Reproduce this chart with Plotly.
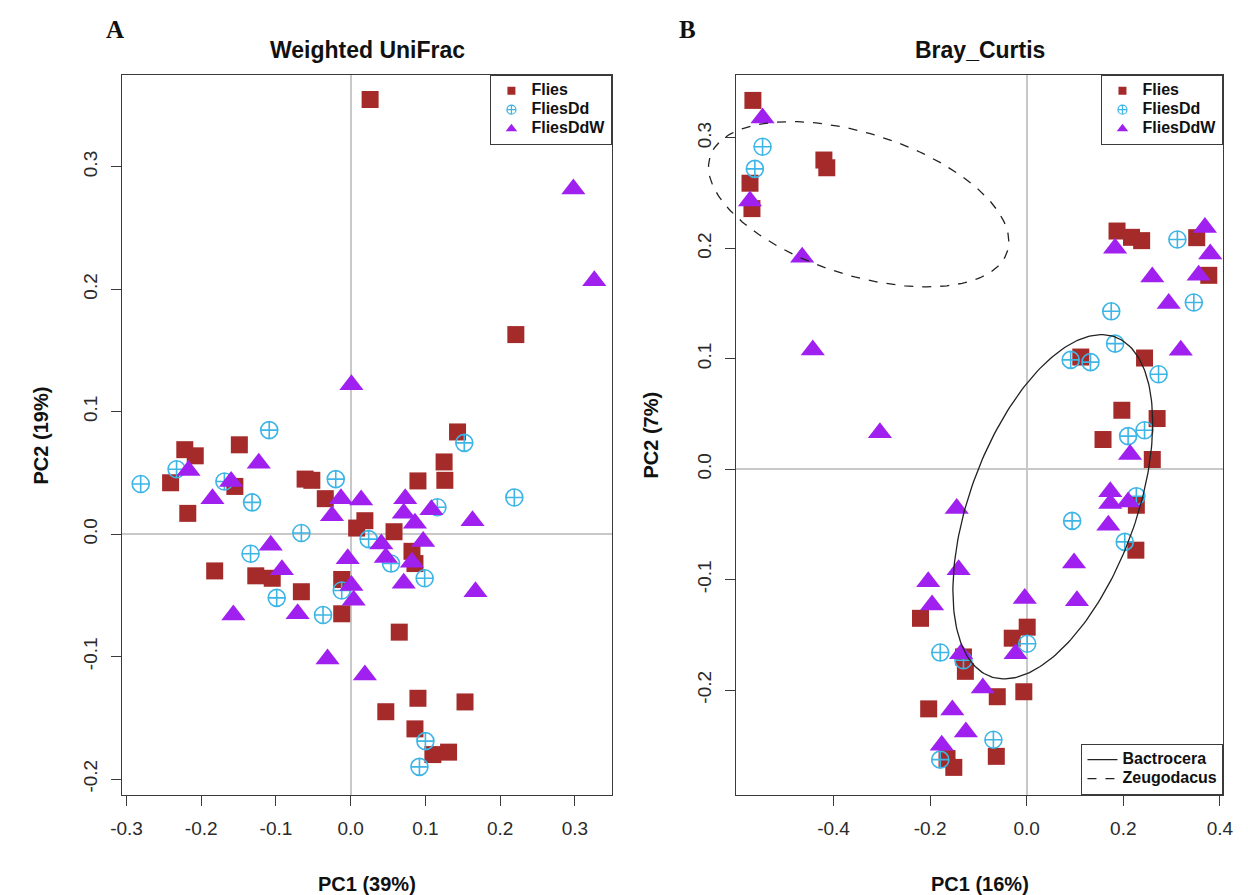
import numpy as np
import plotly.graph_objects as go

W, H = 1248, 895

# ---- Panel A: Weighted UniFrac PCoA scores ----
wu_flies_pc1 = [0.026, 0.221, 0.143, 0.125, 0.126, 0.090, -0.222, -0.208, -0.149, -0.241,
                -0.155, -0.218, -0.061, -0.052, -0.034, 0.008, 0.019, 0.058, 0.082, 0.086,
                -0.182, -0.127, -0.105, -0.066, -0.012, -0.012, 0.065, 0.047, 0.090, 0.153,
                0.086, 0.110, 0.131]
wu_flies_pc2 = [0.355, 0.163, 0.0835, 0.059, 0.044, 0.0435, 0.069, 0.064, 0.073, 0.042,
                0.039, 0.017, 0.045, 0.044, 0.029, 0.005, 0.011, 0.002, -0.014, -0.024,
                -0.030, -0.034, -0.036, -0.047, -0.037, -0.065, -0.080, -0.145, -0.134, -0.137,
                -0.159, -0.180, -0.178]

wu_dd_pc1 = [-0.109, -0.233, -0.281, -0.169, -0.132, -0.020, -0.066, -0.134, -0.099, -0.037,
             -0.012, 0.024, 0.054, 0.099, 0.152, 0.219, 0.116, 0.100, 0.092]
wu_dd_pc2 = [0.085, 0.053, 0.041, 0.043, 0.026, 0.045, 0.001, -0.016, -0.052, -0.066,
             -0.046, -0.004, -0.024, -0.036, 0.0746, 0.030, 0.022, -0.169, -0.190]

wu_ddw_pc1 = [0.001, 0.298, 0.326, -0.123, -0.217, -0.160, -0.185, -0.013, 0.014, -0.025,
              -0.107, -0.092, -0.004, 0.001, 0.004, -0.157, -0.071, -0.031, 0.019, 0.073,
              0.071, 0.108, 0.086, 0.163, 0.041, 0.097, 0.047, 0.082, 0.071, 0.167]
wu_ddw_pc2 = [0.122, 0.282, 0.207, 0.058, 0.052, 0.043, 0.029, 0.029, 0.028, 0.015,
              -0.009, -0.029, -0.020, -0.042, -0.054, -0.066, -0.065, -0.102, -0.115, 0.029,
              0.017, 0.020, 0.009, 0.011, -0.008, -0.006, -0.019, -0.023, -0.040, -0.047]

# ---- Panel B: Bray-Curtis PCoA scores ----
bc_flies_pc1 = [-0.567, -0.420, -0.414, -0.573, -0.569, 0.187, 0.217, 0.238, 0.352, 0.377,
                0.112, 0.244, 0.197, 0.270, 0.158, 0.260, 0.227, 0.226, -0.220, -0.030,
                0.001, -0.131, -0.127, -0.061, -0.006, -0.203, -0.063, -0.165, -0.151]
bc_flies_pc2 = [0.334, 0.280, 0.273, 0.259, 0.236, 0.2157, 0.210, 0.207, 0.2097, 0.1756,
                0.1016, 0.1007, 0.0534, 0.0459, 0.0269, 0.0088, -0.0326, -0.0733, -0.135, -0.153,
                -0.143, -0.170, -0.183, -0.206, -0.2015, -0.217, -0.260, -0.262, -0.270]

bc_dd_pc1 = [-0.547, -0.563, 0.312, 0.346, 0.175, 0.183, 0.091, 0.132, 0.273, 0.244,
             0.210, 0.227, 0.094, 0.203, -0.179, 0.001, -0.069, -0.179, -0.131]
bc_dd_pc2 = [0.292, 0.272, 0.208, 0.151, 0.143, 0.1137, 0.099, 0.097, 0.086, 0.0353,
             0.030, -0.0244, -0.0468, -0.0658, -0.166, -0.158, -0.245, -0.263, -0.173]

bc_ddw_pc1 = [-0.547, -0.573, -0.465, -0.443, -0.304, 0.369, 0.183, 0.380, 0.356, 0.260,
              0.294, 0.319, 0.214, 0.173, 0.173, 0.210, 0.169, 0.098, 0.104, -0.145,
              -0.141, -0.204, -0.196, -0.004, -0.136, -0.023, -0.091, -0.154, -0.126, -0.176]
bc_ddw_pc2 = [0.318, 0.243, 0.192, 0.108, 0.033, 0.219, 0.200, 0.195, 0.1756, 0.174,
              0.150, 0.1077, 0.0133, -0.0205, -0.031, -0.0296, -0.0507, -0.085, -0.119, -0.0356,
              -0.091, -0.102, -0.123, -0.117, -0.167, -0.167, -0.198, -0.218, -0.238, -0.250]

# Genus ellipses (centre and covariance-shape) on the Bray-Curtis ordination
genus_names = ["Bactrocera", "Zeugodacus"]
genus_centre = [(0.054, -0.034), (-0.348, 0.240)]
genus_shape = [(0.0428, 0.0243, 0.0157), (0.0967, 0.0056, -0.0105)]  # sxx, syy, sxy

group_names = ["Flies", "FliesDd", "FliesDdW"]
x_ticks_a = [-0.3, -0.2, -0.1, 0.0, 0.1, 0.2, 0.3]
y_ticks_a = [-0.2, -0.1, 0.0, 0.1, 0.2, 0.3]
x_ticks_b = [-0.4, -0.2, 0.0, 0.2, 0.4]
y_ticks_b = [-0.2, -0.1, 0.0, 0.1, 0.2, 0.3]

# ---- styling ----
SANS = "Liberation Sans, Arial, sans-serif"
SERIF = "Liberation Serif, Times New Roman, serif"
AX = "#3a3a3a"
styles = {
    "Flies": dict(symbol="square", color="#A52A2A", size=17, line=dict(width=0)),
    "FliesDd": dict(symbol="circle-cross-open", color="#3DB5E6", size=17, line=dict(width=1.6, color="#3DB5E6")),
    "FliesDdW": dict(symbol="triangle-up", color="#A020F0", size=21, line=dict(width=0)),
}
legend_sizes = {"Flies": 8, "FliesDd": 9, "FliesDdW": 10}
LEGEND_TEXT = '<span style="font-size:16px"><b>{}</b></span>'

# plotting boxes in page pixels: left, right, top, bottom
A_BOX = (112, 611, 75, 795)
B_BOX = (737, 1233, 75, 795)
A_XR, A_YR = [-0.306, 0.350], [-0.213, 0.375]
B_XR, B_YR = [-0.602, 0.407], [-0.295, 0.357]


def xdom(box):
    return [box[0] / W, box[1] / W]


def ydom(box):
    return [1 - box[3] / H, 1 - box[2] / H]


def ellipse_xy(centre, shape, n=241):
    sxx, syy, sxy = shape
    chol = np.linalg.cholesky(np.array([[sxx, sxy], [sxy, syy]]))
    t = np.linspace(0, 2 * np.pi, n)
    pts = chol @ np.vstack([np.cos(t), np.sin(t)])
    return pts[0] + centre[0], pts[1] + centre[1]


def tick_text(vals):
    # plain hyphen-minus, one decimal
    return [f"{v:.1f}".replace("\u2212", "-") for v in vals]


fig = go.Figure()

panels = [
    ("x", "y", "legend",
     [(wu_flies_pc1, wu_flies_pc2), (wu_dd_pc1, wu_dd_pc2), (wu_ddw_pc1, wu_ddw_pc2)]),
    ("x2", "y2", "legend2",
     [(bc_flies_pc1, bc_flies_pc2), (bc_dd_pc1, bc_dd_pc2), (bc_ddw_pc1, bc_ddw_pc2)]),
]
for xa, ya, leg, series in panels:
    for name, (px, py) in zip(group_names, series):
        st = styles[name]
        fig.add_trace(go.Scatter(
            x=px, y=py, mode="markers", xaxis=xa, yaxis=ya, showlegend=False,
            cliponaxis=False, hoverinfo="skip",
            marker=dict(symbol=st["symbol"], color=st["color"], size=st["size"], line=st["line"]),
        ))
    # legend keys with small symbols
    for name in group_names:
        st = styles[name]
        fig.add_trace(go.Scatter(
            x=[None], y=[None], mode="markers", xaxis=xa, yaxis=ya, name=LEGEND_TEXT.format(name),
            legend=leg, showlegend=True,
            marker=dict(symbol=st["symbol"], color=st["color"], size=legend_sizes[name],
                        line=dict(width=1.2, color=st["color"]) if name == "FliesDd" else dict(width=0)),
        ))

# ellipses: drawn on a wider twin of panel B's axes so the outline may run past the frame
ext_px = 40
b_ppu = (B_BOX[1] - B_BOX[0]) / (B_XR[1] - B_XR[0])
x3_range = [B_XR[0] - ext_px / b_ppu, B_XR[1]]
x3_dom = [(B_BOX[0] - ext_px) / W, B_BOX[1] / W]
for name, c, s, dash in zip(genus_names, genus_centre, genus_shape, ["solid", "dash"]):
    ex, ey = ellipse_xy(c, s)
    fig.add_trace(go.Scatter(
        x=ex, y=ey, mode="lines", xaxis="x3", yaxis="y3", name=LEGEND_TEXT.format(name),
        legend="legend3", showlegend=True, hoverinfo="skip",
        line=dict(color="#222222", width=1.3, dash=dash),
    ))


def axis(dom, rng, ticks, angle=0):
    return dict(
        domain=dom, range=rng, tickvals=ticks, ticktext=tick_text(ticks), ticks="outside",
        ticklen=10, tickwidth=1.2, tickcolor=AX, showline=True, linecolor=AX, linewidth=1.2,
        mirror=True, showgrid=False, zeroline=True, zerolinecolor="#c8c8c8", zerolinewidth=1.5,
        tickfont=dict(family=SANS, size=19, color="#2a2a2a"), tickangle=angle,
        ticklabelstandoff=6, fixedrange=True,
    )


legend_common = dict(
    bgcolor="white", bordercolor=AX, borderwidth=1.2, xanchor="right",
    font=dict(family=SANS, size=12, color="#111111"), tracegroupgap=0, itemwidth=30,
)

annotations = []


def text(x, y, s, size, family=SANS, angle=0):
    annotations.append(dict(
        x=x / W, y=1 - y / H, xref="paper", yref="paper", text=s, showarrow=False,
        xanchor="center", yanchor="middle", textangle=angle,
        font=dict(family=family, size=size, color="#111111"),
    ))


text(105, 30, "<b>A</b>", 25, SERIF)
text(688, 30, "<b>B</b>", 25, SERIF)
text((A_BOX[0] + A_BOX[1]) / 2, 50, "<b>Weighted UniFrac</b>", 23)
text((B_BOX[0] + B_BOX[1]) / 2, 50, "<b>Bray_Curtis</b>", 23)
text((A_BOX[0] + A_BOX[1]) / 2, 884, "<b>PC1 (39%)</b>", 20)
text((B_BOX[0] + B_BOX[1]) / 2, 884, "<b>PC1 (16%)</b>", 20)
text(30, (A_BOX[2] + A_BOX[3]) / 2, "<b>PC2 (19%)</b>", 20, angle=-90)
text(650, (B_BOX[2] + B_BOX[3]) / 2, "<b>PC2 (7%)</b>", 20, angle=-90)

fig.update_layout(
    width=W, height=H, autosize=False, margin=dict(l=0, r=0, t=0, b=0),
    paper_bgcolor="white", plot_bgcolor="rgba(0,0,0,0)",
    xaxis=dict(axis(xdom(A_BOX), A_XR, x_ticks_a), anchor="y"),
    yaxis=dict(axis(ydom(A_BOX), A_YR, y_ticks_a, -90), anchor="x"),
    xaxis2=dict(axis(xdom(B_BOX), B_XR, x_ticks_b), anchor="y2"),
    yaxis2=dict(axis(ydom(B_BOX), B_YR, y_ticks_b, -90), anchor="x2"),
    xaxis3=dict(domain=x3_dom, range=x3_range, visible=False, anchor="y3", fixedrange=True),
    yaxis3=dict(domain=ydom(B_BOX), range=B_YR, visible=False, anchor="x3", fixedrange=True),
    legend=dict(legend_common, x=A_BOX[1] / W, y=1 - A_BOX[2] / H, yanchor="top"),
    legend2=dict(legend_common, x=B_BOX[1] / W, y=1 - B_BOX[2] / H, yanchor="top"),
    legend3=dict(legend_common, x=B_BOX[1] / W, y=1 - B_BOX[3] / H, yanchor="bottom"),
    annotations=annotations,
    showlegend=True,
)

fig.write_html("out.html")
